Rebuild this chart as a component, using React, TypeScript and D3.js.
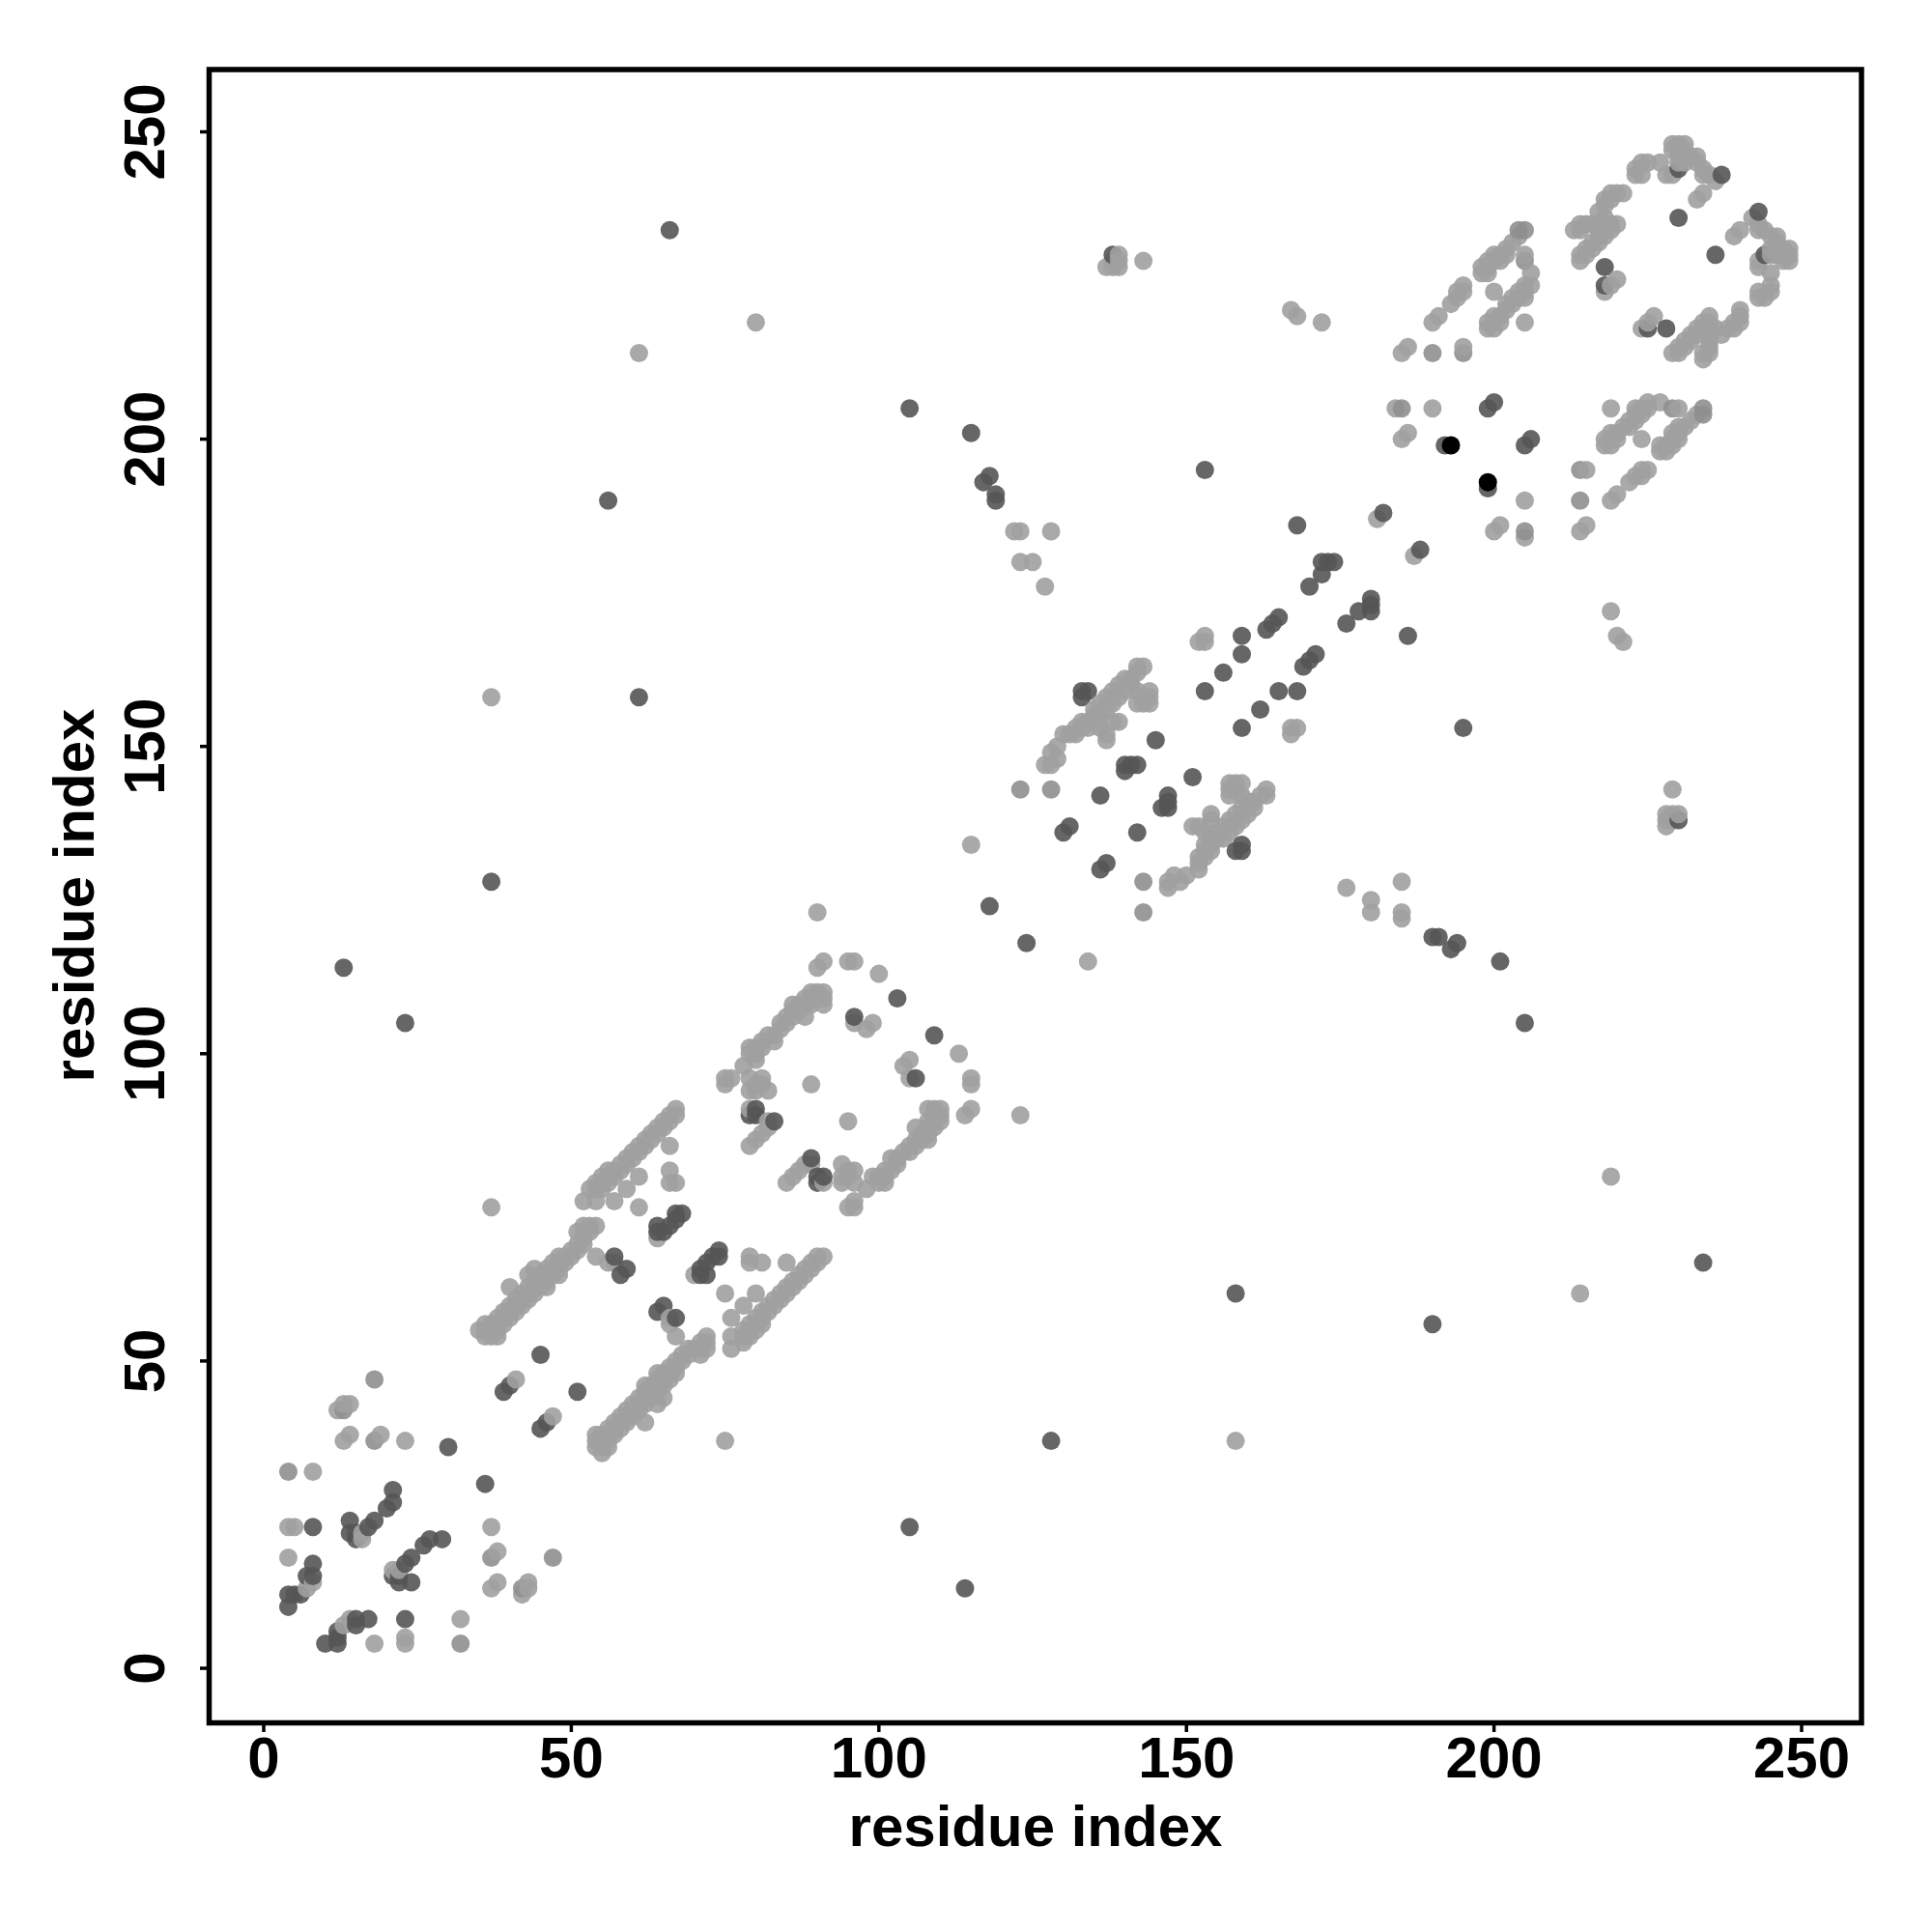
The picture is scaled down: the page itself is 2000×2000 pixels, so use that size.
import React from "react";
import * as d3 from "d3";

const xTicks = [0, 50, 100, 150, 200, 250];
const yTicks = [0, 50, 100, 150, 200, 250];
const axisLabel = "residue index";

// Contact pairs [i, j]; the map is symmetric so each is drawn at (i,j) and (j,i).
const lightPairs: [number, number][] = [
  [8,32],[12,42],[13,43],[14,43],[13,37],[14,38],[18,37],[19,38],[23,37],[4,23],[5,23],[16,22],[16,21],[4,18],[7,13],[8,14],[23,5],[23,4],[41,47],
  [37,75],[37,158],[61,214],[80,219],[90,123],[115,134],
  [35,55],[36,54],[36,55],[36,56],[37,54],[37,55],[37,56],[38,54],[38,55],[38,56],[38,57],[39,56],[39,57],[39,58],[40,57],[40,58],[40,59],[40,62],[41,58],[41,59],[41,60],[42,59],[42,60],[42,61],[43,60],[43,61],[43,62],[43,64],[44,61],[44,62],[44,63],[44,65],[45,62],[45,63],[45,64],[46,62],[46,63],[46,64],[46,65],[47,64],[47,65],[47,66],[48,64],[48,65],[48,66],[48,67],[49,66],[49,67],[50,67],[50,68],[51,68],[51,69],[51,71],[52,69],[52,70],[52,71],[52,72],[53,71],[53,72],[54,72],
  [52,76],[54,76],[57,76],[53,78],[54,78],[55,78],[54,79],[55,79],[56,79],[55,80],[56,80],[57,80],[56,81],[57,81],[58,81],[58,82],[59,82],[59,83],[60,83],[60,84],[61,84],[61,85],[62,85],[62,86],[63,86],[63,87],[64,87],[64,88],[65,88],[65,89],[66,89],[66,90],[67,90],[67,91],[59,78],[61,75],[61,80],[66,79],[67,79],[66,81],[66,85],
  [54,67],[56,66],[57,66],[64,70],[75,95],[75,96],[76,96],[79,96],[81,96],[79,94],[80,95],[80,94],[81,95],[82,94],[78,98],[80,99],[89,95],[79,91],[82,89],[79,85],[80,86],[81,87],[82,88],
  [79,100],[79,101],[80,100],[80,101],[81,101],[81,102],[82,103],[83,102],[83,103],[84,104],[84,105],[85,105],[85,106],[86,106],[86,107],[86,108],[87,107],[87,108],[88,106],[88,109],[88,108],[89,108],[89,109],[89,110],[90,109],[90,110],[91,108],[91,109],[91,110],
  [90,114],[91,115],[95,115],[96,115],[100,113],[96,105],[98,104],[99,105],
  [127,147],[128,147],[128,149],[129,148],[129,150],[130,152],[131,152],[132,152],[132,153],[133,153],[133,154],[134,154],[135,154],[134,153],[135,156],[135,155],[136,155],[136,157],[136,153],[137,158],[137,152],[137,151],[137,156],[138,157],[138,159],[138,154],[139,154],[139,158],[139,160],[140,159],[140,161],[141,161],[141,160],[142,162],[142,163],[143,163],[142,159],[142,157],[143,157],[144,159],[144,157],[144,158],[143,158],
  [152,167],[153,167],[153,168],[167,221],[168,220],[172,219],[181,187],[127,176],[125,180],[123,180],[123,185],[122,185],[128,185],
  [137,228],[139,229],[139,230],[138,228],[143,229],[138,229],[139,228],
  [185,214],[186,215],[190,214],[190,219],[191,220],[193,222],[194,223],[194,224],[195,224],[195,225],[198,227],[195,215],[184,205],[185,200],[186,201],[190,205],[200,185],[201,186],[205,184],[205,190],
  [204,234],[203,232],[202,231],[201,230],[200,230],[199,229],[199,227],[198,228],[200,229],[205,230],[206,227],[206,225],[205,225],[205,224],[204,223],[203,223],[202,221],[201,220],[200,220],[199,219],[200,218],[199,218],[201,219],[200,224],[205,219],[202,222],[203,222],[204,224],
  [213,234],[214,235],[214,234],[215,235],[216,235],[217,235],[218,235],[219,235],[220,235],[217,237],[218,238],[218,239],[219,239],[219,240],[220,240],[221,240],[214,230],[214,229],[215,230],[215,231],[216,231],[216,232],[217,232],[217,233],[218,233],[218,234],[219,234],[218,224],[219,225],[220,226],[218,236],
  [223,243],[224,243],[223,244],[224,245],[225,245],[227,245],[228,243],[229,243],[229,248],[230,248],[231,248],[229,247],[231,247],[230,247],[233,246],[233,245],[232,246],[234,244],[234,243],[235,243],[236,242],[234,240],[233,239],[230,246],[231,246],[231,245],[230,245],
  [219,201],[220,201],[221,202],[222,202],[223,204],[223,205],[224,205],[225,206],[227,206],[230,205],[232,203],[233,204],[231,202],[230,202],[229,201],[230,200],[229,199],[228,199],[227,199],[227,198],[224,200],[219,199],[218,200],[222,193],[223,194],[224,194],[224,195],[225,195],
];
const midPairs: [number, number][] = [
  [4,32],[18,47],[13,42],[18,37],
  [128,143],[123,143],
  [205,234],[205,229],[195,214],[185,205],[204,234],[190,214],
];
const darkPairs: [number, number][] = [
  [30,36],[8,23],[21,29],[21,27],[20,26],[18,24],[17,23],[14,24],[14,22],[15,21],[15,22],[8,17],[8,15],[7,15],[4,12],[5,12],[4,10],[6,12],[23,8],
  [39,45],[40,46],[45,51],[37,128],[13,114],[23,105],[56,190],[66,234],[61,158],[105,205],
  [57,67],[59,65],[58,64],[64,72],[65,71],[66,72],[67,73],[68,74],[67,74],[64,71],
  [80,91],[79,90],[80,90],[83,89],[103,109],[96,106],
  [133,159],[134,159],[133,158],[145,151],[141,147],[142,147],[140,146],[140,147],[136,142],[131,137],[130,136],
  [153,159],[156,162],[159,165],[159,168],[163,169],[164,170],[165,171],[168,186],[182,188],[172,180],[173,180],[174,180],[172,178],[170,176],[153,195],
  [115,201],[117,193],[118,194],[119,191],[119,190],[118,124],[192,199],[199,205],[200,206],[186,168],
  [218,228],[218,225],[230,236],[237,243],[230,244],[138,230],
];
const blackPairs: [number, number][] = [
  [193,199],
];

const WIDTH = 2000;
const HEIGHT = 2000;
const frame = { left: 216.5, right: 1927, top: 72, bottom: 1783.5 };
const x = d3.scaleLinear().domain([0, 250]).range([273, 1865]);
const y = d3.scaleLinear().domain([0, 250]).range([1727, 136.5]);
const FONT = "'Liberation Sans', Arial, sans-serif";

const levels = [
  { pairs: lightPairs, fill: "#a0a0a0", opacity: 0.9 },
  { pairs: midPairs, fill: "#8f8f8f", opacity: 0.9 },
  { pairs: darkPairs, fill: "#555555", opacity: 0.9 },
  { pairs: blackPairs, fill: "#000000", opacity: 1 },
];

// Later (darker) levels win on duplicates; painted ordered by x, then y.
const pointMap = new Map<string, { cx: number; cy: number; level: number }>();
levels.forEach((lv, level) => {
  lv.pairs.forEach(([i, j]) => {
    pointMap.set(`${i},${j}`, { cx: i, cy: j, level });
    pointMap.set(`${j},${i}`, { cx: j, cy: i, level });
  });
});
const points = Array.from(pointMap.values()).sort(
  (a, b) => d3.ascending(a.cx, b.cx) || d3.ascending(a.cy, b.cy)
);

export default function App() {
  return (
    <svg
      width={WIDTH}
      height={HEIGHT}
      style={{ position: "absolute", left: 0, top: 0, background: "#fff" }}
    >
      <g>
        {points.map((p) => (
          <circle
            key={`${p.cx},${p.cy}`}
            cx={x(p.cx)}
            cy={y(p.cy)}
            r={9.5}
            fill={levels[p.level].fill}
            fillOpacity={levels[p.level].opacity}
          />
        ))}
      </g>
      <rect
        x={frame.left}
        y={frame.top}
        width={frame.right - frame.left}
        height={frame.bottom - frame.top}
        fill="none"
        stroke="#000"
        strokeWidth={5.5}
      />
      {xTicks.map((t) => (
        <g key={t}>
          <line x1={x(t)} x2={x(t)} y1={frame.bottom} y2={frame.bottom + 9.5} stroke="#000" strokeWidth={3.5} />
          <text x={x(t)} y={1840} textAnchor="middle" fontFamily={FONT} fontWeight="bold" fontSize={60}>
            {t}
          </text>
        </g>
      ))}
      {yTicks.map((t) => (
        <g key={t}>
          <line y1={y(t)} y2={y(t)} x1={frame.left} x2={frame.left - 9.5} stroke="#000" strokeWidth={3.5} />
          <text
            transform={`translate(170,${y(t)}) rotate(-90)`}
            textAnchor="middle"
            fontFamily={FONT}
            fontWeight="bold"
            fontSize={60}
          >
            {t}
          </text>
        </g>
      ))}
      <text x={1072} y={1911} textAnchor="middle" fontFamily={FONT} fontWeight="bold" fontSize={60}>
        {axisLabel}
      </text>
      <text
        transform={`translate(97,927) rotate(-90)`}
        textAnchor="middle"
        fontFamily={FONT}
        fontWeight="bold"
        fontSize={60}
      >
        {axisLabel}
      </text>
    </svg>
  );
}
